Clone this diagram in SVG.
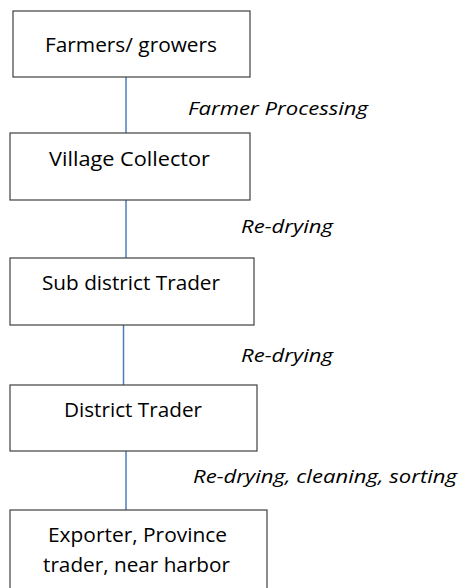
<svg xmlns="http://www.w3.org/2000/svg" width="463" height="588" viewBox="0 0 463 588">
<style>
.box{fill:#fff;stroke:#404040;stroke-width:1.2}
.nt{font-family:"Open Sans","Liberation Sans",sans-serif;font-size:20px;fill:#000;text-anchor:middle}
.lb{font-family:"Open Sans","Liberation Sans",sans-serif;font-size:19px;font-style:italic;fill:#000}
.cn{stroke:#4a7ebb;stroke-width:1.5;fill:none}
</style>
<rect width="463" height="588" fill="#fff"/>
<g id="connectors">
<line class="cn" x1="126" y1="77" x2="126" y2="133"/>
<line class="cn" x1="126" y1="200" x2="126" y2="258"/>
<line class="cn" x1="123.5" y1="325" x2="123.5" y2="385"/>
<line class="cn" x1="126" y1="451" x2="126" y2="510"/>
</g>
<g id="labels">
<text class="lb" x="188" y="115" textLength="180" lengthAdjust="spacingAndGlyphs">Farmer Processing</text>
<text class="lb" x="241" y="233" textLength="92" lengthAdjust="spacingAndGlyphs">Re-drying</text>
<text class="lb" x="241" y="362" textLength="92" lengthAdjust="spacingAndGlyphs">Re-drying</text>
<text class="lb" x="193" y="483" textLength="264" lengthAdjust="spacingAndGlyphs">Re-drying, cleaning, sorting</text>
</g>
<g id="farmers">
<rect class="box" x="13" y="11" width="237" height="66"/>
<text class="nt" x="131" y="52" textLength="172" lengthAdjust="spacingAndGlyphs">Farmers/ growers</text>
</g>
<g id="village-collector">
<rect class="box" x="10" y="133" width="240" height="67"/>
<text class="nt" x="129.5" y="166" textLength="161" lengthAdjust="spacingAndGlyphs">Village Collector</text>
</g>
<g id="sub-district-trader">
<rect class="box" x="10" y="258" width="244" height="67"/>
<text class="nt" x="131" y="290" textLength="178" lengthAdjust="spacingAndGlyphs">Sub district Trader</text>
</g>
<g id="district-trader">
<rect class="box" x="10" y="385" width="247" height="66"/>
<text class="nt" x="133" y="417" textLength="138" lengthAdjust="spacingAndGlyphs">District Trader</text>
</g>
<g id="exporter">
<rect class="box" x="10" y="510" width="257" height="90"/>
<text class="nt" x="137.5" y="542" textLength="179" lengthAdjust="spacingAndGlyphs">Exporter, Province</text>
<text class="nt" x="136.5" y="572" textLength="187" lengthAdjust="spacingAndGlyphs">trader, near harbor</text>
</g>
</svg>
